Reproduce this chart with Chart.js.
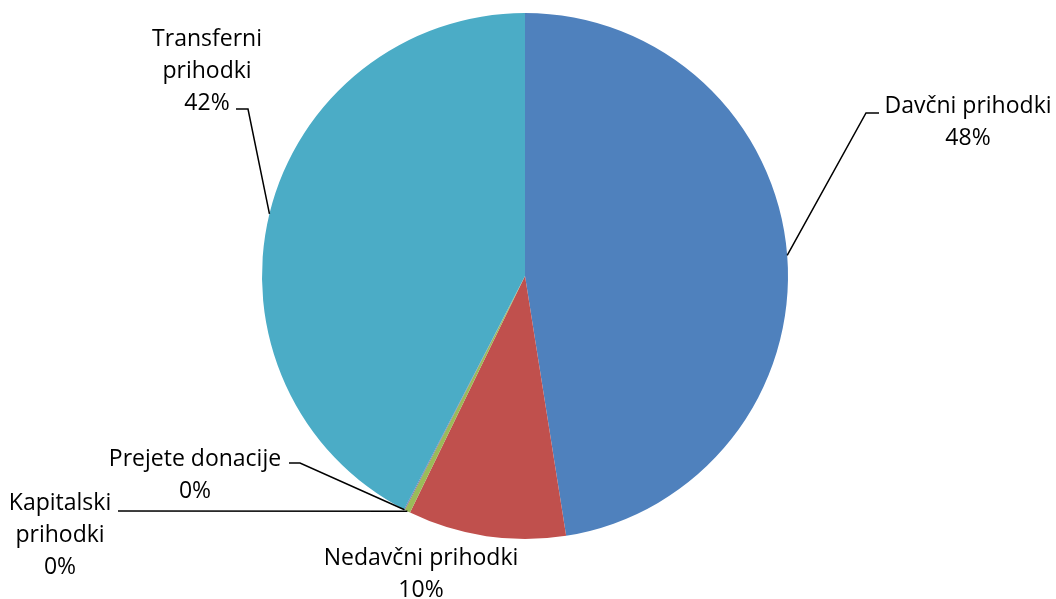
<!DOCTYPE html>
<html>
<head>
<meta charset="utf-8">
<script src="https://cdn.jsdelivr.net/npm/chart.js@4.4.0/dist/chart.umd.min.js"></script>
<style>
  body { margin: 0; background: #fff; }
</style>
</head>
<body>
<canvas id="pieChart" width="1056" height="599"></canvas>
<script>
// Podatki (deleži prihodkov v %)
const kategorije = ['Davčni prihodki', 'Nedavčni prihodki', 'Kapitalski prihodki', 'Prejete donacije', 'Transferni prihodki'];
const vrednosti = [47.5, 9.7, 0.35, 0.05, 42.4];
const barve = ['#4F81BD', '#C0504D', '#9BBB59', '#8064A2', '#4BACC6'];

// Oznake: vrstice besedila, sredina besedila, prelomna točka vodila (null = brez vodila)
const oznake = [
  { vrstice: ['Davčni prihodki', '48%'], x: 968, y: 106, lom: [[879, 113], [866, 113]] },
  { vrstice: ['Nedavčni prihodki', '10%'], x: 421, y: 558, lom: null },
  { vrstice: ['Kapitalski', 'prihodki', '0%'], x: 60, y: 503, lom: [[118, 511], [118, 511]] },
  { vrstice: ['Prejete donacije', '0%'], x: 195, y: 459, lom: [[289, 463], [300, 463]] },
  { vrstice: ['Transferni', 'prihodki', '42%'], x: 207, y: 39, lom: [[236, 109], [248, 109]] }
];

const oznakePlugin = {
  id: 'oznake',
  afterDraw(chart) {
    const ctx = chart.ctx;
    const meta = chart.getDatasetMeta(0);
    ctx.save();
    ctx.font = '23px "Open Sans"';
    ctx.fillStyle = '#000';
    ctx.textAlign = 'center';
    ctx.textBaseline = 'middle';
    ctx.strokeStyle = '#000';
    ctx.lineWidth = 1.5;
    meta.data.forEach((arc, i) => {
      const o = oznake[i];
      o.vrstice.forEach((t, j) => ctx.fillText(t, o.x, o.y + j * 32));
      if (!o.lom) return;
      const p = arc.getProps(['x', 'y', 'startAngle', 'endAngle', 'outerRadius'], true);
      const kot = (p.startAngle + p.endAngle) / 2;
      const ex = p.x + Math.cos(kot) * p.outerRadius;
      const ey = p.y + Math.sin(kot) * p.outerRadius;
      ctx.beginPath();
      ctx.moveTo(o.lom[0][0], o.lom[0][1]);
      ctx.lineTo(o.lom[1][0], o.lom[1][1]);
      ctx.lineTo(ex, ey);
      ctx.stroke();
    });
    ctx.restore();
  }
};

const ctx = document.getElementById('pieChart').getContext('2d');
const pieChart = new Chart(ctx, {
  type: 'pie',
  data: {
    labels: kategorije,
    datasets: [{
      data: vrednosti,
      backgroundColor: barve,
      borderWidth: 0
    }]
  },
  options: {
    responsive: false,
    animation: false,
    layout: { padding: { top: 13, bottom: 60, left: 0, right: 6 } },
    plugins: {
      legend: { display: false },
      tooltip: { enabled: false }
    }
  },
  plugins: [oznakePlugin]
});
</script>
</body>
</html>
